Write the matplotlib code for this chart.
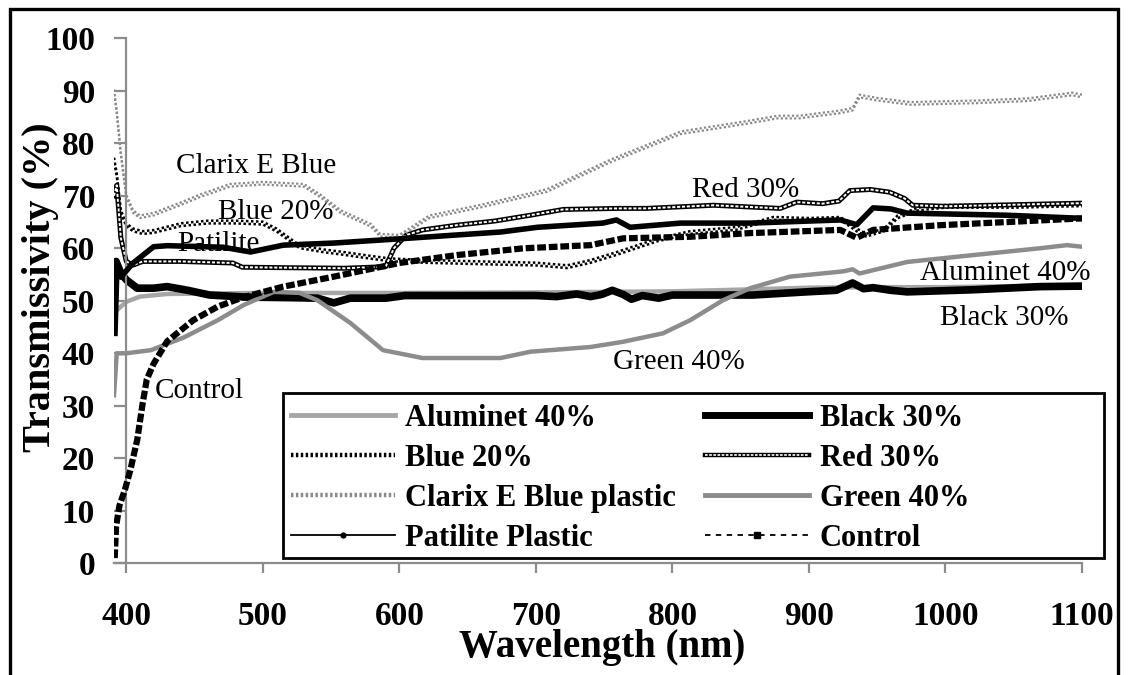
import matplotlib
matplotlib.use("Agg")
import matplotlib.pyplot as plt
from matplotlib.lines import Line2D
from matplotlib.patches import Rectangle
from matplotlib.transforms import offset_copy
import numpy as np

plt.rcParams["font.family"] = ["Liberation Serif", "DejaVu Serif"]

# transmisividad (%) por longitud de onda (nm) para cada malla / plastico
alum_wl = [391, 393, 400, 410, 430, 500, 600, 700, 800, 860, 900, 950, 1000, 1050, 1098]
alum_t = [47.5, 48.2, 49.8, 50.8, 51.3, 51.5, 51.5, 51.6, 51.8, 52.2, 52.5, 52.6, 52.6, 52.8, 53.0]

black_wl = [391, 392.5, 396, 400, 408, 420, 430, 445, 461, 488, 520, 540, 552, 564, 590, 604,
            700, 715, 730, 740, 748, 756, 764, 770, 778, 790, 800, 859, 898, 920, 932, 940,
            947, 960, 972, 1020, 1069, 1100]
black_t = [44, 57.5, 55.3, 54, 52.4, 52.4, 52.7, 52.0, 51.1, 50.7, 50.6, 50.5, 49.6, 50.5, 50.5, 51,
           51, 50.8, 51.3, 50.8, 51.2, 52.0, 51.2, 50.3, 51.0, 50.5, 51.1, 51.1, 51.7, 52, 53.4, 52.3,
           52.5, 52.0, 51.7, 52.1, 52.7, 52.8]

blue_wl = [391, 393, 396, 400, 405, 412, 420, 440, 460, 480, 500, 510, 520, 527, 545, 560, 576,
           593, 620, 666, 700, 723, 740, 759, 789, 813, 847, 874, 900, 923, 935, 942, 955, 965,
           980, 1000, 1050, 1100]
blue_t = [77, 74, 67, 64.5, 63.5, 63, 63.2, 64.5, 65, 65, 64.8, 63.5, 61.6, 60.3, 59.5, 59, 58.4,
          57.8, 57.5, 57.2, 57.0, 56.5, 57.5, 59, 61.6, 63, 63.8, 65.7, 65.5, 65.7, 63.5, 62.5, 63.5, 66,
          67.5, 68, 68, 68.3]

red_wl = [391, 393, 396, 400, 405, 412, 440, 478, 485, 520, 560, 590, 596, 605, 617, 642, 670,
          696, 720, 760, 781, 830, 879, 891, 910, 922, 930, 945, 959, 970, 976, 1000, 1050, 1100]
red_t = [70, 72, 62, 57.5, 56.8, 57.5, 57.5, 57.2, 56.4, 56.3, 56.2, 56.5, 60, 62.5, 63.5, 64.4, 65.2,
         66.3, 67.4, 67.6, 67.6, 68.2, 67.6, 68.8, 68.5, 69, 71, 71.2, 70.7, 69.5, 68.2, 68, 68.3, 68.6]

clarix_wl = [391, 393, 396, 400, 405, 410, 420, 440, 454, 476, 500, 530, 542, 557, 579, 586, 600,
             622, 659, 708, 756, 806, 855, 877, 893, 923, 932, 937, 950, 974, 1023, 1060, 1093, 1100]
clarix_t = [90, 86, 78, 70, 67, 66, 66.5, 68.5, 70, 72, 72.4, 72, 70, 67, 64.4, 62.5, 62.3,
            66, 68, 71, 76.8, 82, 84, 85, 85, 86, 86.5, 89, 88.4, 87.6, 87.9, 88.3, 89.4, 89]

green_wl = [391, 392, 393, 400, 418, 442, 467, 486, 508, 527, 540, 564, 588, 617, 674, 696, 740,
            764, 793, 813, 837, 857, 886, 925, 932, 937, 972, 1020, 1069, 1089, 1100]
green_t = [32, 36, 40, 40, 40.6, 43, 46.3, 49.2, 51.7, 51.5, 50.1, 45.8, 40.6, 39.1, 39.1, 40.3, 41.2,
           42.2, 43.8, 46.3, 50.1, 52.4, 54.6, 55.6, 56, 55.2, 57.4, 58.7, 60, 60.6, 60.3]

pat_wl = [391, 393, 396, 405, 420, 430, 471, 491, 515, 552, 600, 674, 701, 749, 759, 769, 806,
          857, 923, 935, 947, 960, 972, 1045, 1100]
pat_t = [53, 55, 54.5, 57.2, 60.3, 60.5, 60.2, 59.3, 60.6, 61, 61.8, 63.1, 64, 64.8, 65.4, 64, 64.8,
         64.8, 65.4, 64.5, 67.7, 67.5, 66.7, 66.3, 65.7]

ctrl_wl = [391.5, 392.5, 395, 399, 403, 408, 412, 415, 420, 430, 449, 467, 486, 515, 552, 600,
           642, 691, 740, 764, 813, 857, 923, 935, 947, 996, 1045, 1100]
ctrl_t = [1, 7, 11, 14, 17.8, 23.5, 30.5, 35, 38, 42.3, 46.3, 48.9, 50.7, 52.7, 54.6, 57.2,
          58.7, 60, 60.6, 61.9, 62.2, 62.9, 63.5, 62, 63.5, 64.4, 65, 65.7]

W, H = 1128, 675
fig = plt.figure(figsize=(W / 100, H / 100), dpi=100)
ax = fig.add_axes([114 / W, 1 - 563.3 / H, 968 / W, 525 / H])

GRAY_A = "#a6a6a6"
GRAY_G = "#8c8c8c"
AXC = "#8c8c8c"


def checker(x, y, color, lw=1.8, off=1.0, z=3):
    # dos filas de puntos desfasadas -> banda a cuadros
    for dy, ph in ((off, 0), (-off, 1)):
        tr = offset_copy(ax.transData, fig=fig, x=0, y=dy, units="points")
        ax.plot(x, y, color=color, lw=lw, linestyle=(ph, (1, 1)), transform=tr, zorder=z)


ax.plot(alum_wl, alum_t, color=GRAY_A, lw=3.2, zorder=2, solid_joinstyle="round")
ax.plot(black_wl, black_t, color="black", lw=5.5, zorder=2.1, solid_joinstyle="round")
checker(blue_wl, blue_t, "black", z=2.2)
ax.plot(red_wl, red_t, color="black", lw=3.6, zorder=2.3)
ax.plot(red_wl, red_t, color="white", lw=1.4, linestyle=(0, (1.6, 0.9)), zorder=2.31)
checker(clarix_wl, clarix_t, "#8a8a8a", lw=1.6, off=0.95, z=2.4)
ax.plot(green_wl, green_t, color=GRAY_G, lw=3.2, zorder=2.5, solid_joinstyle="round")
ax.plot(pat_wl, pat_t, color="black", lw=4, zorder=2.6, solid_joinstyle="round")
ax.plot(ctrl_wl, ctrl_t, color="black", lw=4.5, linestyle=(0, (1.4, 0.45)), zorder=2.7)

ax.set_xlim(391, 1100)
ax.set_ylim(0, 100)
ax.set_xticks(np.arange(400, 1101, 100))
ax.set_yticks(np.arange(0, 101, 10))
for s in ("top", "right"):
    ax.spines[s].set_visible(False)
ax.spines["left"].set_position(("data", 400))
for s in ("left", "bottom"):
    ax.spines[s].set_color(AXC)
    ax.spines[s].set_linewidth(1.6)
ax.tick_params(axis="x", direction="out", length=7.5, width=1.6, color=AXC, pad=20, labelsize=24)
ax.tick_params(axis="y", direction="out", length=8.5, width=1.6, color=AXC, pad=14, labelsize=24)
for lbl in ax.get_xticklabels() + ax.get_yticklabels():
    lbl.set_fontweight("bold")

# etiquetas de cada serie
labels = [("Clarix E Blue", 176, 166), ("Blue 20%", 218, 212), ("Patilite", 177, 244),
          ("Red 30%", 692, 190), ("Aluminet 40%", 920, 273), ("Black 30%", 940, 318),
          ("Green 40%", 613, 362), ("Control", 155, 391)]
for txt, px, py in labels:
    ax.text(px / W, 1 - py / H, txt, transform=fig.transFigure, fontsize=21,
            ha="left", va="center", zorder=1)

fig.text(41 / W, 1 - 287 / H, "Transmissivity (%)", rotation=90, fontsize=29,
         fontweight="bold", ha="center", va="center")
fig.text(602 / W, 1 - 648 / H, "Wavelength (nm)", fontsize=28, fontweight="bold",
         ha="center", va="center")

# leyenda (orden por columnas) con marco aparte
h_alum = Line2D([], [], color=GRAY_A, lw=3.5)
h_black = Line2D([], [], color="black", lw=5)
h_blue = Line2D([], [], color="black", lw=3.2, linestyle=(0, (0.55, 0.55)))
h_red = (Line2D([], [], color="black", lw=3.2),
         Line2D([], [], color="white", lw=1.2, linestyle=(0, (1.6, 0.9))))
h_clarix = Line2D([], [], color="#8a8a8a", lw=3.2, linestyle=(0, (0.55, 0.55)))
h_green = Line2D([], [], color=GRAY_G, lw=3.5)
h_pat = Line2D([], [], color="black", lw=1.3, marker="o", ms=3.5)
h_ctrl = Line2D([], [], color="black", lw=1.3, linestyle=(0, (3, 3)), marker="s", ms=4)

handles = [h_alum, h_blue, h_clarix, h_pat, h_black, h_red, h_green, h_ctrl]
names = ["Aluminet 40%", "Blue 20%", "Clarix E Blue plastic", "Patilite Plastic",
         "Black 30%", "Red 30%", "Green 40%", "Control"]

x0, x1 = (283 - 114) / 968, (1104 - 114) / 968
y0, y1 = (563.3 - 558) / 525, (563.3 - 393) / 525
ax.add_patch(Rectangle((x0, y0), x1 - x0, y1 - y0, transform=ax.transAxes, clip_on=False,
                       facecolor="white", edgecolor="black", lw=2, zorder=4))
leg = ax.legend(handles, names, ncol=2, loc="upper left", bbox_to_anchor=(x0, y1 - 0.006),
                prop={"weight": "bold", "size": 22}, handlelength=3.4, handletextpad=0.35,
                labelspacing=0.36, borderaxespad=0, borderpad=0.25, columnspacing=0.95,
                frameon=False)
leg.set_zorder(5)

fig.add_artist(Rectangle((10 / W, -0.1), 1108 / W, 1.1 - 9 / H, transform=fig.transFigure,
                         fill=False, edgecolor="black", lw=2.4))

fig.savefig("out.png", dpi=100)
